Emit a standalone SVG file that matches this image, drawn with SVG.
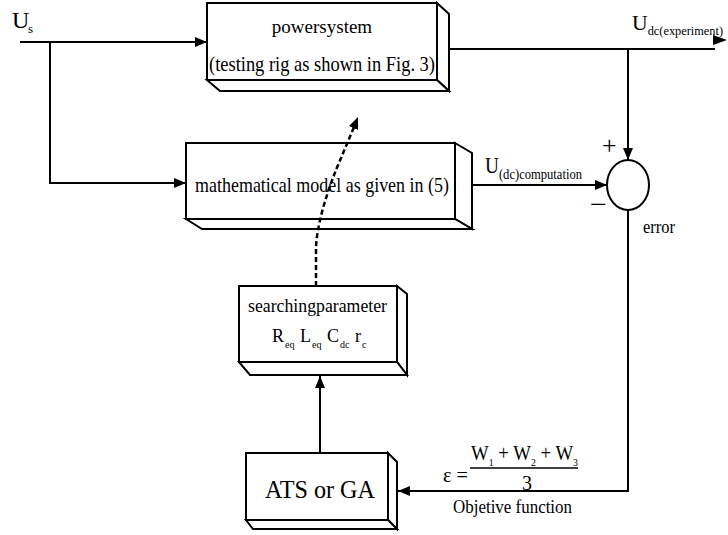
<svg xmlns="http://www.w3.org/2000/svg" width="728" height="535" viewBox="0 0 728 535">
<style>
.box{fill:#fff;stroke:#000;stroke-width:2}
.face{fill:#fff;stroke:#000;stroke-width:2;stroke-linejoin:miter}
.ln{fill:none;stroke:#000;stroke-width:2}
.t{font-family:"Liberation Serif","Times New Roman",serif;fill:#000}
</style>
<defs>
<marker id="arr" markerUnits="userSpaceOnUse" markerWidth="12" markerHeight="10" refX="12" refY="5" orient="auto">
<path d="M0,0 L12,5 L0,10 z" fill="#000"/>
</marker>
</defs>
<rect width="728" height="535" fill="#fff"/>

<g id="powersystem">
<rect class="box" x="207" y="3" width="230" height="77"/>
<path class="face" d="M437,3 L449,14 V91 L437,80 Z"/>
<path class="face" d="M207,80 L220,91 H449 L437,80 Z"/>
<text class="t" x="322" y="33" font-size="19" text-anchor="middle">powersystem</text>
<text class="t" x="209" y="71" font-size="21" textLength="226" lengthAdjust="spacingAndGlyphs">(testing rig as shown in Fig. 3)</text>
</g>

<g id="math-model">
<rect class="box" x="186" y="143" width="269" height="76"/>
<path class="face" d="M455,143 L472,153 V229 L455,219 Z"/>
<path class="face" d="M186,219 L202,229 H472 L455,219 Z"/>
<text class="t" x="195" y="192" font-size="21" textLength="254" lengthAdjust="spacingAndGlyphs">mathematical model as given in (5)</text>
</g>

<g id="searching">
<rect class="box" x="239" y="286" width="158" height="76"/>
<path class="face" d="M397,286 L407,294 V375 L397,362 Z"/>
<path class="face" d="M239,362 L250,375 H407 L397,362 Z"/>
<text class="t" x="248" y="312" font-size="19" textLength="139" lengthAdjust="spacingAndGlyphs">searchingparameter</text>
<text class="t" y="342" font-size="18"><tspan x="272">R</tspan><tspan x="285" y="348" font-size="10">eq</tspan><tspan x="300" y="342">L</tspan><tspan x="312" y="348" font-size="10">eq</tspan><tspan x="327" y="342">C</tspan><tspan x="340" y="348" font-size="10">dc</tspan><tspan x="355" y="342">r</tspan><tspan x="362" y="348" font-size="10">c</tspan></text>
</g>

<g id="ats">
<rect class="box" x="246" y="453" width="142" height="67"/>
<path class="face" d="M388,453 L397,462 V529 L388,520 Z"/>
<path class="face" d="M246,520 L253,529 H397 L388,520 Z"/>
<text class="t" x="265" y="498" font-size="26" textLength="110" lengthAdjust="spacingAndGlyphs">ATS or GA</text>
</g>

<g id="sum">
<ellipse cx="628" cy="185" rx="21" ry="25" fill="#fff" stroke="#000" stroke-width="2"/>
<text class="t" x="602" y="154" font-size="26">+</text>
<text class="t" x="590" y="213" font-size="26" textLength="17" lengthAdjust="spacingAndGlyphs">−</text>
<text class="t" x="643" y="233" font-size="18" textLength="32" lengthAdjust="spacingAndGlyphs">error</text>
</g>

<g id="labels">
<text class="t" x="12" y="28" font-size="24">U<tspan x="28" y="33" font-size="13">s</tspan></text>
<text class="t" x="632" y="30" font-size="22" textLength="91" lengthAdjust="spacingAndGlyphs">U<tspan y="35" font-size="12.5">dc(experiment)</tspan></text>
<text class="t" x="485" y="173" font-size="23" textLength="97" lengthAdjust="spacingAndGlyphs">U<tspan y="179" font-size="15">(dc)computation</tspan></text>
</g>

<g id="objective">
<text class="t" x="443" y="482" font-size="20" textLength="25" lengthAdjust="spacingAndGlyphs">ε =</text>
<text class="t" x="471" y="460" font-size="21" textLength="107" lengthAdjust="spacingAndGlyphs">W<tspan dy="6" font-size="11">1</tspan><tspan dy="-6"> + W</tspan><tspan dy="6" font-size="11">2</tspan><tspan dy="-6"> + W</tspan><tspan dy="6" font-size="11">3</tspan></text>
<line x1="470" y1="468" x2="578" y2="468" stroke="#000" stroke-width="1.5"/>
<text class="t" x="522" y="490" font-size="20">3</text>
<text class="t" x="453" y="513" font-size="18" textLength="119" lengthAdjust="spacingAndGlyphs">Objetive function</text>
</g>

<g id="connectors">
<path class="ln" d="M20,42 H207" marker-end="url(#arr)"/>
<path class="ln" d="M50,42 V183 H186" marker-end="url(#arr)"/>
<path class="ln" d="M449,49 H715"/>
<polygon points="713,35 727,40 713,45" fill="#000"/>
<path class="ln" d="M628,49 V160" marker-end="url(#arr)"/>
<path class="ln" d="M472,185 H607" marker-end="url(#arr)"/>
<path class="ln" d="M628,210 V491 H398" marker-end="url(#arr)"/>
<path class="ln" d="M320,453 V376" marker-end="url(#arr)"/>
<path d="M316,286 V250 C316,228 326,195 336,170 L354,127" fill="none" stroke="#000" stroke-width="2.5" stroke-dasharray="5,3"/>
<path d="M353.5,128 L358,117" fill="none" stroke="none" marker-end="url(#arr)"/>
</g>
</svg>
